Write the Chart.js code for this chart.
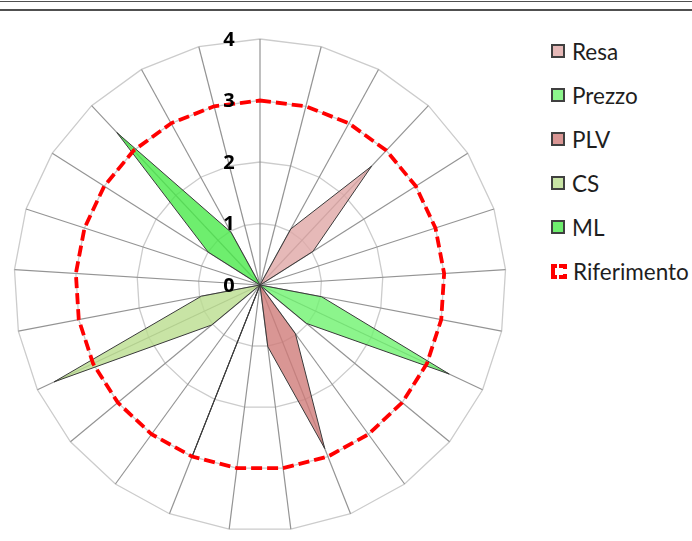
<!DOCTYPE html>
<html><head><meta charset="utf-8">
<script src="https://cdn.jsdelivr.net/npm/chart.js@4.4.0/dist/chart.umd.min.js"></script>
<style>
html,body{margin:0;padding:0;background:#fff;}
body{width:692px;height:541px;position:relative;overflow:hidden;font-family:Lato,"Open Sans",sans-serif;}
#l1{position:absolute;left:0;top:1px;width:692px;height:1px;background:#505050;}
#l2{position:absolute;left:0;top:9px;width:692px;height:2px;background:#505050;}
#wrap{position:absolute;left:4px;top:29px;width:512px;height:512px;}
#legend{position:absolute;left:551px;top:29px;}
.item{height:44px;display:flex;align-items:center;font-size:22.5px;color:#1e1e1e;white-space:nowrap;}
.box{width:14px;height:14px;box-sizing:border-box;border:2px solid #404040;margin-right:7px;}
.dash{position:relative;width:16px;height:15px;box-sizing:border-box;border:4px solid #ff0000;margin-right:6px;}
.dash::after{content:"";position:absolute;left:2px;top:-4px;width:2px;height:15px;background:#fff;}
.dash::before{content:"";position:absolute;left:8px;top:1px;width:4px;height:5px;background:#fff;}
</style></head>
<body>
<div id="l1"></div><div id="l2"></div>
<div id="wrap"><canvas id="c" width="512" height="512"></canvas></div>
<div id="legend"></div>
<script>
const categories = ['1','2','3','4','5','6','7','8','9','10','11','12','13','14','15','16','17','18','19','20','21','22','23','24','25'];
const resa        = [0,0,1.04,2.65,1.02,0,0,0,0,0,0,0,0,0,0,0,0,0,0,0,0,0,0,0,0];
const prezzo      = [0,0,0,0,0,0,0,1.02,3.4,0.98,0,0,0,0,0,0,0,0,0,0,0,0,0,0,0];
const plv         = [0,0,0,0,0,0,0,0,0,0,0.98,2.86,1.01,0,3.0,0,0,0,0,0,0,0,0,0,0];
const cs          = [0,0,0,0,0,0,0,0,0,0,0,0,0,0,0,0,1.02,3.7,0.97,0,0,0,0,0,0];
const ml          = [0,0,0,0,0,0,0,0,0,0,0,0,0,0,0,0,0,0,0,0,0,1.0,3.4,0.98,0];
const riferimento = [3,3,3,3,3,3,3,3,3,3,3,3,3,3,3,3,3,3,3,3,3,3,3,3,3];
const tickValues = [0,1,2,3,4];
const tickLabels = ['0','1','2','3','4'];

function area(label, data, fill){
  return {label, data, backgroundColor: fill, borderColor:'#3a3a3a', borderWidth:1,
          fill:true, pointRadius:0, tension:0, order:1};
}
const datasets = [
  area('Resa', resa, 'rgba(224,168,166,0.8)'),
  area('Prezzo', prezzo, 'rgba(111,242,111,0.8)'),
  area('PLV', plv, 'rgba(208,124,121,0.8)'),
  area('CS', cs, 'rgba(186,221,143,0.8)'),
  area('ML', ml, 'rgba(74,234,74,0.8)'),
  {label:'Riferimento', data: riferimento, borderColor:'#ff0000', borderWidth:3.8,
   borderDash:[11,5], fill:false, pointRadius:0, tension:0, order:0, dashed:true}
];

const tickPlugin = {
  id:'tickText',
  afterDatasetsDraw(chart){
    const s = chart.scales.r, ctx = chart.ctx;
    ctx.save();
    ctx.font = '700 20px "Open Sans", "Liberation Sans", sans-serif';
    ctx.fillStyle = '#000';
    ctx.textAlign = 'center';
    ctx.textBaseline = 'middle';
    tickValues.forEach((v,i)=>{
      const d = s.getDistanceFromCenterForValue(v);
      ctx.fillText(tickLabels[i], s.xCenter - 31, s.yCenter - d + 1);
    });
    ctx.restore();
  }
};

const chart = new Chart(document.getElementById('c'), {
  type:'radar',
  data:{labels:categories, datasets},
  options:{
    responsive:false, animation:false, devicePixelRatio:1,
    layout:{padding:10},
    plugins:{legend:{display:false}, tooltip:{enabled:false}},
    elements:{line:{tension:0}},
    scales:{r:{
      min:0, max:4,
      ticks:{display:false, stepSize:1},
      grid:{color:'#cccccc', lineWidth:1.3},
      angleLines:{color:'#949494', lineWidth:1.2},
      pointLabels:{display:false}
    }}
  },
  plugins:[tickPlugin]
});

const lg = document.getElementById('legend');
chart.data.datasets.forEach(ds=>{
  const it = document.createElement('div'); it.className='item';
  const b = document.createElement('span');
  if (ds.dashed) { b.className='dash'; }
  else { b.className='box'; b.style.background = ds.backgroundColor; }
  const t = document.createElement('span'); t.textContent = ds.label;
  it.appendChild(b); it.appendChild(t); lg.appendChild(it);
});
</script>
</body></html>
